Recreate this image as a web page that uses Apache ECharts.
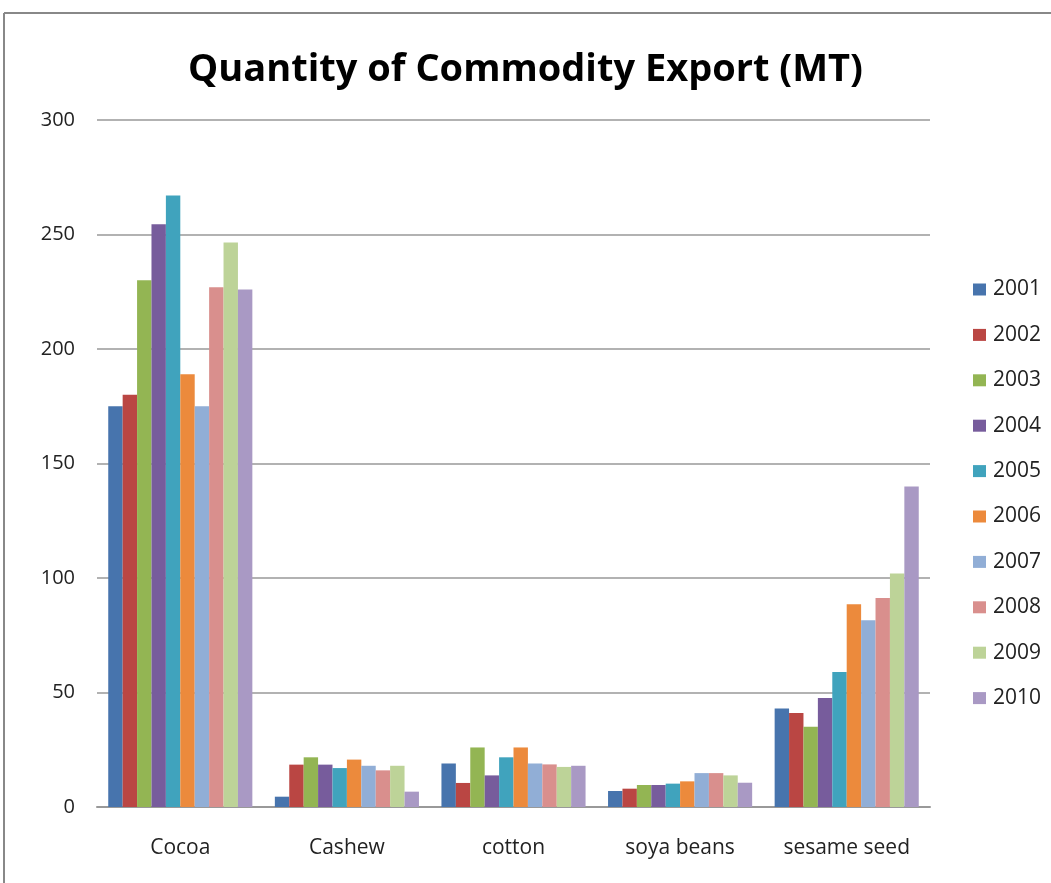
<!DOCTYPE html>
<html>
<head>
<meta charset="utf-8">
<script src="https://cdn.jsdelivr.net/npm/echarts@6/dist/echarts.min.js"></script>
<style>html,body{margin:0;padding:0;background:#fff;}#c{width:1051px;height:883px;}</style>
</head>
<body>
<div id="c"></div>
<script>
const categories = ['Cocoa', 'Cashew', 'cotton', 'soya beans', 'sesame seed'];
const years = ['2001','2002','2003','2004','2005','2006','2007','2008','2009','2010'];
const y2001 = [175, 4.5, 19, 7, 43];
const y2002 = [180, 18.5, 10.5, 8, 41];
const y2003 = [230, 21.7, 26, 9.6, 35];
const y2004 = [254.5, 18.5, 13.8, 9.6, 47.6];
const y2005 = [267, 17, 21.7, 10.2, 59];
const y2006 = [189, 20.7, 26, 11.2, 88.5];
const y2007 = [175, 18, 19, 14.8, 81.5];
const y2008 = [227, 16, 18.6, 14.8, 91.3];
const y2009 = [246.5, 18, 17.5, 13.8, 102];
const y2010 = [226, 6.7, 18, 10.6, 140];
const seriesValues = [y2001,y2002,y2003,y2004,y2005,y2006,y2007,y2008,y2009,y2010];
const colors = ['#4774AD','#BA4643','#93B553','#775C9C','#40A3BD','#EC8A3C','#91AED6','#D98F8D','#BDD398','#A999C4'];
const yTicks = [0, 50, 100, 150, 200, 250, 300];

const chart = echarts.init(document.getElementById('c'));
chart.setOption({
  animation: false,
  backgroundColor: '#fff',
  color: colors,
  title: {
    text: 'Quantity of Commodity Export (MT)',
    left: 'center',
    top: 46,
    textStyle: { fontFamily: 'Open Sans', fontWeight: 'bold', fontSize: 38, color: '#000' }
  },
  legend: {
    orient: 'vertical',
    left: 968,
    top: 274,
    itemWidth: 13,
    itemHeight: 12,
    itemGap: 24.4,
    icon: 'rect',
    data: years,
    textStyle: { fontFamily: 'Open Sans', fontSize: 21, lineHeight: 20, color: '#222', padding: [0,0,0,2] }
  },
  grid: { left: 97, right: 121, top: 120, bottom: 76 },
  xAxis: {
    type: 'category',
    data: categories,
    axisTick: { show: false },
    axisLine: { lineStyle: { color: '#999', width: 2 } },
    axisLabel: { fontFamily: 'Open Sans', fontSize: 21, color: '#222', margin: 31 }
  },
  yAxis: {
    type: 'value',
    min: yTicks[0],
    max: yTicks[yTicks.length-1],
    interval: 50,
    axisLine: { show: false },
    axisTick: { show: false },
    splitLine: { lineStyle: { color: '#999', width: 1.5 } },
    axisLabel: { fontFamily: 'Open Sans', fontSize: 20, color: '#222', margin: 22 }
  },
  graphic: [
    { type: 'line', shape: { x1: 4, y1: 13, x2: 1051, y2: 13 }, style: { stroke: '#888', lineWidth: 2 } },
    { type: 'line', shape: { x1: 4, y1: 13, x2: 4, y2: 883 }, style: { stroke: '#888', lineWidth: 2 } }
  ],
  series: years.map((y, i) => ({
    name: y,
    type: 'bar',
    data: seriesValues[i],
    barGap: '0%',
    barCategoryGap: '13.5%'
  }))
});
</script>
</body>
</html>
